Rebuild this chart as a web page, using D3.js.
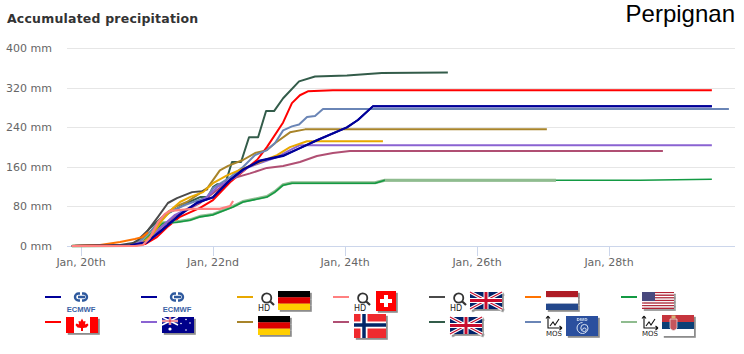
<!DOCTYPE html>
<html><head><meta charset="utf-8">
<script src="https://cdn.jsdelivr.net/npm/d3@7/dist/d3.min.js"></script>
<style>html,body{margin:0;padding:0;background:#fff}svg{display:block}</style>
</head><body><svg id="c" width="744" height="354"></svg>
<script>
// Hours since Jan 20 00:00 and accumulated precipitation in mm.
const ecmwfHD=[[-3.3,0],[17.8,1],[24,8],[28.7,28],[36,63],[42.2,87],[48,99],[54.2,133],[58.9,154],[65.1,172],[73.5,182],[79.6,198],[85.8,214],[96.7,240],[100.7,255],[106.2,283],[229.4,283]];
const ecmwf=[[-3.3,0],[17.8,1],[24,7],[28.7,30],[36,64],[42.2,88],[48,98],[54.2,134],[58.9,155],[65.1,173],[73.5,183],[79.6,198],[85.8,214],[96.7,240],[100.7,255],[106.2,283],[229.4,283]];
const canada=[[-3.3,0],[19.6,1],[23.3,4],[27.6,18],[31.3,38],[36,59],[43.3,77],[48,93],[54.2,129],[60.4,158],[64,174],[67.6,200],[73.5,250],[76.7,289],[79.6,305],[82.5,313],[91.6,315],[229.4,315]];
const australia=[[-3.3,0],[17.8,1],[24.4,12],[28.7,36],[34.2,63],[41.5,83],[45.8,99],[49.5,119],[55.3,137],[60.4,158],[65.1,168],[71.3,180],[76,194],[79.6,204],[85.8,204],[229.4,204]];
const germanyHD=[[-3.3,0],[17.8,1],[21.5,2],[25.8,22],[29.5,52],[33.5,77],[36,89],[39.6,99],[44.4,109],[48,127],[53.1,143],[57.8,154],[65.1,170],[71.3,184],[76,200],[82.2,212],[109.8,212]];
const germany=[[-3.3,0],[17.8,2],[21.5,12],[25,28],[28.7,48],[31.6,69],[34.9,81],[38.5,89],[43.3,107],[46.2,119],[50.5,153],[53.5,162],[58.9,174],[63.3,188],[67.6,194],[70.5,208],[76,230],[81.5,236],[169.4,236]];
const norway=[[-3.3,0],[19.6,1],[24.4,10],[28.7,36],[34.2,61],[43.3,87],[48,107],[55.3,137],[61.5,147],[67.6,158],[73.5,162],[79.6,170],[85.8,182],[91.6,188],[97.8,192],[211.6,192]];
const ukHD=[[-3.3,0],[14.2,2],[18.9,6],[20.7,12],[24.4,32],[28,59],[31.6,87],[34.9,97],[40.4,109],[44,111],[46.2,115]];
const uk=[[-3.3,0],[17.8,2],[21.5,12],[25,36],[30.5,63],[34.1,73],[38.5,87],[43.3,99],[46.2,99],[48,119],[49.5,125],[52.4,125],[54.9,170],[58.2,170],[61.1,220],[64.4,220],[67.3,273],[70.2,273],[73.5,299],[79.3,333],[85.1,343],[96.7,345],[109.4,350],[133.4,351]];
const dwdMOS=[[-3.3,0],[17.8,2],[23.3,16],[28,48],[32.4,69],[37.8,83],[45.8,99],[48,117],[54.2,139],[58.9,160],[63.3,184],[67.6,194],[70.5,208],[73.5,234],[76.7,242],[79.3,246],[82.2,261],[85.1,263],[88,277],[235.6,277]];
const netherlands=[[-3.3,0],[6.9,2],[14.2,8],[19.6,14],[22.2,18],[24.4,28]];
const usa=[[-3.3,0],[17.8,1],[22.5,8],[26.9,32],[29.8,46],[34.9,48],[39.6,52],[43.3,59],[48,63],[55.3,79],[58.9,89],[67.6,99],[70.5,109],[73.5,123],[76.7,127],[106.9,127],[110.5,133],[203.3,133],[229.4,135]];
const serbiaMOS=[[-3.3,0],[17.8,1],[22.5,8],[26.9,33],[29.8,47],[34.9,49],[39.6,53],[43.3,60],[48,64],[55.3,80],[58.9,90],[67.6,100],[70.5,110],[73.5,124],[76.7,128],[106.9,128],[110.5,133],[172.7,133]];
const switzerlandHD=[[-3.3,0],[19.6,0],[22.5,2],[25,16],[28,48],[30.5,65],[32.4,71],[40.7,75],[50.5,75],[54.2,81],[55.3,91]];

const yTicks=[0,80,160,240,320,400];
const dayTicks=[0,48,96,144,192];
const dayLabels=["Jan, 20th","Jan, 22nd","Jan, 24th","Jan, 26th","Jan, 28th"];
const legendCols=[0,1,2,3,4,5,6];

const x=d3.scaleLinear().domain([0,192]).range([81,609]);
const y=d3.scaleLinear().domain([0,400]).range([246,48.3]);
const svg=d3.select("#c");
const F="'DejaVu Sans',sans-serif";

const NAVY="#000099",RED="#ff0000",PURPLE="#8a63d2",BROWN="#a8842a",PLUM="#b04f73",DKGREEN="#335c4a",SLATE="#6a85b6",GREEN="#139a43",LTGREEN="#8fbc8f",GRAY="#4a4a4a",ORANGE="#ff7300",PINK="#ff8080",YELLOW="#e8a800";

// Draw order: later series sit on top
const series=[
 {d:uk,c:DKGREEN,w:2},{d:germany,c:BROWN,w:2},{d:canada,c:RED,w:2},
 {d:dwdMOS,c:SLATE,w:2},{d:serbiaMOS,c:LTGREEN,w:3},{d:usa,c:GREEN,w:1.6},{d:serbiaMOS.slice(-2),c:LTGREEN,w:2.6},
 {d:norway,c:PLUM,w:2},{d:australia,c:PURPLE,w:2},{d:ukHD,c:GRAY,w:2},{d:netherlands,c:ORANGE,w:2},{d:germanyHD,c:YELLOW,w:2},
 {d:ecmwf,c:NAVY,w:2},{d:ecmwfHD,c:NAVY,w:2},{d:switzerlandHD,c:PINK,w:2.2}];

svg.append("text").attr("x",7).attr("y",23).attr("font-family",F).attr("font-weight","bold").attr("font-size",12.5).attr("letter-spacing",.2).attr("fill","#333").text("Accumulated precipitation");
svg.append("text").attr("x",735).attr("y",22).attr("text-anchor","end").attr("font-family","'Liberation Sans',sans-serif").attr("font-size",24).attr("fill","#000").text("Perpignan");

svg.append("g").selectAll("line").data(yTicks).join("line")
 .attr("x1",67).attr("x2",735).attr("y1",d=>Math.round(y(d))+.5).attr("y2",d=>Math.round(y(d))+.5)
 .attr("stroke",d=>d?"#e6e6e6":"#ccd6eb");
svg.append("g").selectAll("text").data(yTicks).join("text")
 .attr("x",52).attr("y",d=>y(d)+4).attr("text-anchor","end").attr("font-family",F).attr("font-size",11).attr("fill","#666").text(d=>d+" mm");
svg.append("g").selectAll("line").data(dayTicks).join("line")
 .attr("x1",d=>x(d)+.5).attr("x2",d=>x(d)+.5).attr("y1",246).attr("y2",256).attr("stroke","#ccd6eb");
svg.append("g").selectAll("text").data(dayTicks).join("text")
 .attr("x",d=>x(d)).attr("y",266).attr("text-anchor","middle").attr("font-family",F).attr("font-size",11).attr("fill","#666").text((d,i)=>dayLabels[i]);

const line=d3.line().x(d=>x(d[0])).y(d=>y(d[1])).curve(d3.curveLinear);
svg.append("g").attr("fill","none").selectAll("path").data(series).join("path")
 .attr("d",s=>line(s.d)).attr("stroke",s=>s.c).attr("stroke-width",s=>s.w).attr("stroke-linejoin","round").attr("stroke-linecap","butt");

// Legend
svg.append("defs").append("filter").attr("id","sh").attr("x","-20%").attr("y","-20%").attr("width","150%").attr("height","150%")
 .append("feDropShadow").attr("dx",1.8).attr("dy",1.8).attr("stdDeviation",.6).attr("flood-color","#000").attr("flood-opacity",.45);

function flagG(p,fx,fy){return p.append("g").attr("transform",`translate(${fx},${fy})`).attr("filter","url(#sh)");}
function bars(g,cols,h){const s=h/cols.length;cols.forEach((c,i)=>g.append("rect").attr("y",i*s).attr("width",32).attr("height",s).attr("fill",c));}
function de(p,fx,fy){bars(flagG(p,fx,fy),["#000","#dd0000","#ffce00"],19);}
function nl(p,fx,fy){bars(flagG(p,fx,fy),["#ae1c28","#fff","#21468b"],19);}
function rs(p,fx,fy){const g=flagG(p,fx,fy);bars(g,["#c6363c","#0c4076","#fff"],21);
 g.append("path").attr("d","M8 4H15V13Q11.5 18 8 13Z").attr("fill","#c6565c").attr("stroke","#eee").attr("stroke-width",.7);
 g.append("rect").attr("x",9.5).attr("y",.5).attr("width",4).attr("height",3).attr("fill","#d8b27a");}
function gb(p,fx,fy){const g=flagG(p,fx,fy);g.append("rect").attr("width",32).attr("height",17).attr("fill","#012169");
 g.append("path").attr("d","M0 0L32 17M32 0L0 17").attr("stroke","#fff").attr("stroke-width",3.2);
 g.append("path").attr("d","M0 0L32 17M32 0L0 17").attr("stroke","#c8102e").attr("stroke-width",1.1);
 g.append("path").attr("d","M16 0V17M0 8.5H32").attr("stroke","#fff").attr("stroke-width",5);
 g.append("path").attr("d","M16 0V17M0 8.5H32").attr("stroke","#c8102e").attr("stroke-width",3);}
function ca(p,fx,fy){const g=flagG(p,fx,fy);g.append("rect").attr("width",32).attr("height",16).attr("fill","#fff");
 g.append("rect").attr("width",8).attr("height",16).attr("fill",RED);g.append("rect").attr("x",24).attr("width",8).attr("height",16).attr("fill",RED);
 g.append("path").attr("d","M16 1.5L17.5 4.5L19.5 4L19 7.5L21.5 6.5L22.5 8L20.5 10.5L17 11V14H15V11L11.5 10.5L9.5 8L10.5 6.5L13 7.5L12.5 4L14.5 4.5Z").attr("fill",RED);}
function au(p,fx,fy){const g=flagG(p,fx,fy);g.append("rect").attr("width",32).attr("height",16).attr("fill","#00008b");
 g.append("path").attr("d","M0 0L16 8M16 0L0 8").attr("stroke","#fff").attr("stroke-width",1.5);
 g.append("path").attr("d","M8 0V8M0 4H16").attr("stroke","#fff").attr("stroke-width",2.4);
 g.append("path").attr("d","M8 0V8M0 4H16").attr("stroke","#e0263c").attr("stroke-width",1.1);
 [[8,12,1.6],[24,2.5,.8],[19,6.5,.8],[28,6,.8],[24,13,.8]].forEach(s=>g.append("circle").attr("cx",s[0]).attr("cy",s[1]).attr("r",s[2]).attr("fill","#fff"));}
function no(p,fx,fy){const g=flagG(p,fx,fy);g.append("rect").attr("width",32).attr("height",24).attr("fill","#ef2b2d");
 g.append("path").attr("d","M10 0V24M0 11H32").attr("stroke","#fff").attr("stroke-width",7);
 g.append("path").attr("d","M10 0V24M0 11H32").attr("stroke","#002868").attr("stroke-width",3.5);}
function ch(p,fx,fy){const g=flagG(p,fx,fy);g.append("rect").attr("width",20).attr("height",20).attr("fill",RED);
 g.append("path").attr("d","M10 4V16M4 10H16").attr("stroke","#fff").attr("stroke-width",4);}
function us(p,fx,fy){const g=flagG(p,fx,fy);bars(g,d3.range(13).map(i=>i%2?"#fff":"#b22234"),17);g.append("rect").attr("width",13).attr("height",9).attr("fill","#4a4a7e");}
function dwd(p,fx,fy){const g=flagG(p,fx,fy);g.append("rect").attr("width",32).attr("height",20).attr("fill","#2c4f9e");
 g.append("text").attr("x",16).attr("y",4.8).attr("text-anchor","middle").attr("font-family",F).attr("font-size",4).attr("font-weight","bold").attr("fill","#cde").text("DWD");
 g.append("path").attr("d","M16.5 6.5a5.5 5.5 0 1 0 5.5 5.5a3.6 3.6 0 1 0 -3.6 3.6a1.8 1.8 0 1 0 -1.8 -1.8").attr("fill","none").attr("stroke","#d5e2f2").attr("stroke-width",1);}
function hd(p){const g=p.append("g");
 g.append("circle").attr("cx",29.7).attr("cy",1).attr("r",4.6).attr("fill","none").attr("stroke","#333").attr("stroke-width",1.8);
 g.append("line").attr("x1",33).attr("y1",4.3).attr("x2",37).attr("y2",8).attr("stroke","#333").attr("stroke-width",2.2);
 g.append("text").attr("x",21).attr("y",13.5).attr("font-family",F).attr("font-size",8).attr("fill","#222").text("HD");}
function mos(p){const g=p.append("g");
 g.append("path").attr("d","M23 -6V6H37M23 -6L21 -3.5M23 -6L25 -3.5M37 6L34.5 4M37 6L34.5 8").attr("fill","none").attr("stroke","#111").attr("stroke-width",1.1);
 g.append("path").attr("d","M25 4L28 0L30 3L34 -3").attr("fill","none").attr("stroke","#111").attr("stroke-width",1.1);
 g.append("text").attr("x",21).attr("y",13.5).attr("font-family",F).attr("font-size",7).attr("fill","#222").text("MOS");}
function ecmwfLogo(p){const g=p.append("g");
 g.append("path").attr("d","M35 -3.5H33.5a3.5 3.5 0 0 0 0 7H35M37 -3.5H38.5a3.5 3.5 0 0 1 0 7H37M33 0H40").attr("fill","none").attr("stroke","#2f5a9e").attr("stroke-width",2.4);
 g.append("text").attr("x",36).attr("y",14.5).attr("text-anchor","middle").attr("font-family","'Liberation Sans',sans-serif").attr("font-size",7.6).attr("font-weight","bold").attr("fill","#3a62a5").text("ECMWF");}

const legendTop=[
 {c:NAVY,f:p=>ecmwfLogo(p)},{c:NAVY,f:p=>ecmwfLogo(p)},
 {c:YELLOW,f:p=>{hd(p);de(p,41,-6)}},{c:PINK,f:p=>{hd(p);ch(p,43,-6)}},
 {c:GRAY,f:p=>{hd(p);gb(p,41,-5)}},{c:ORANGE,f:p=>nl(p,21,-6)},{c:GREEN,f:p=>us(p,21,-5)}];
const legendBottom=[
 {c:RED,f:p=>ca(p,21,-5)},{c:PURPLE,f:p=>au(p,21,-5)},{c:BROWN,f:p=>de(p,21,-6)},
 {c:PLUM,f:p=>no(p,21,-8)},{c:DKGREEN,f:p=>gb(p,21,-5)},
 {c:SLATE,f:p=>{mos(p);dwd(p,41,-6)}},{c:LTGREEN,f:p=>{mos(p);rs(p,41,-7)}}];
const legendX=d3.scaleLinear().domain([0,1]).range([45,141]);
[[legendTop,297],[legendBottom,322]].forEach(([row,ry])=>{
 row.forEach((it,i)=>{const g=svg.append("g").attr("transform",`translate(${legendX(legendCols[i])},${ry})`);
  g.append("line").attr("x1",0).attr("x2",16).attr("y1",0).attr("y2",0).attr("stroke",it.c).attr("stroke-width",2);
  it.f(g);});});
</script></body></html>
